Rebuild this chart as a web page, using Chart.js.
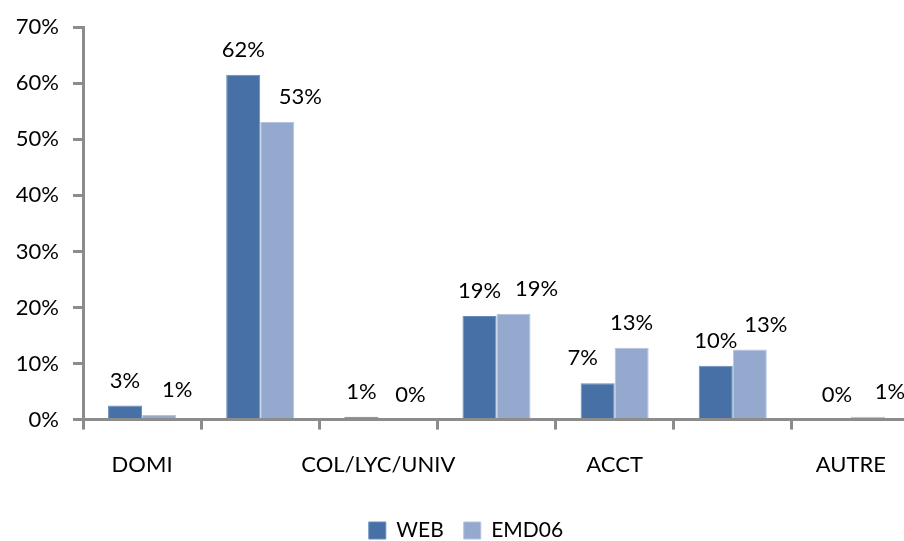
<!DOCTYPE html>
<html>
<head>
<meta charset="utf-8">
<script src="https://cdn.jsdelivr.net/npm/chart.js@4"></script>
<style>
    html, body { margin: 0; padding: 0; background: #fff; overflow: hidden; }
    #wrap { width: 910px; height: 553px; }
</style>
</head>
<body>
<div id="wrap"><canvas id="graphique"></canvas></div>
<script>
// Catégories (Excel n'affiche qu'un libellé sur deux)
const categories = ['DOMI', '', 'COL/LYC/UNIV', '', 'ACCT', '', 'AUTRE'];
const valeursWeb = [2.5, 61.5, 0.5, 18.5, 6.5, 9.6, 0];
const valeursEmd = [0.8, 53.1, 0, 18.9, 12.8, 12.5, 0.5];
const ticksY = [0, 10, 20, 30, 40, 50, 60, 70];

// décalage horizontal des étiquettes (placées à la main dans l'original)
const decalageWeb = [0, 0, 0, 0, -15, 0, 3];
const decalageEmd = [18, 23, 15, 23, 0, 16, 22];

const police = 'Lato, "Open Sans", sans-serif';
const gris = '#8c8c8c';

// Étiquettes de valeurs au-dessus des barres + recentrage de la légende
const etiquettesPlugin = {
    id: 'etiquettes',
    beforeDraw(chart) {
        // l'original est plus large que la fenêtre : la légende est centrée sur 932px
        if (chart.legend) chart.legend.left = 22;
    },
    afterDatasetsDraw(chart) {
        const ctx = chart.ctx;
        ctx.save();
        ctx.font = '22px ' + police;
        ctx.fillStyle = '#000';
        ctx.textAlign = 'center';
        ctx.textBaseline = 'middle';
        chart.data.datasets.forEach((ds, i) => {
            const meta = chart.getDatasetMeta(i);
            const decalages = i === 0 ? decalageWeb : decalageEmd;
            meta.data.forEach((barre, j) => {
                const texte = Math.round(ds.data[j]) + '%';
                ctx.fillText(texte, barre.x + decalages[j], barre.y - 25);
            });
        });
        ctx.restore();
    }
};

new Chart(document.getElementById('graphique').getContext('2d'), {
    type: 'bar',
    data: {
        labels: categories,
        datasets: [
            { label: 'WEB', data: valeursWeb, backgroundColor: '#4771a6', borderColor: '#6a8cba', borderWidth: 1 },
            { label: 'EMD06', data: valeursEmd, backgroundColor: '#95a9cf', borderColor: '#b4c3de', borderWidth: 1 }
        ]
    },
    options: {
        responsive: true,
        maintainAspectRatio: false,
        animation: false,
        layout: { padding: { top: 21, right: 0, left: 0, bottom: 2 } },
        datasets: { bar: { categoryPercentage: 0.576, barPercentage: 1 } },
        scales: {
            x: {
                grid: { offset: true, drawOnChartArea: false, drawTicks: true, tickLength: 10, color: gris, lineWidth: 3 },
                border: { color: gris, width: 3 },
                ticks: { autoSkip: false, maxRotation: 0, padding: 22, color: '#000', font: { family: police, size: 22 } }
            },
            y: {
                min: 0,
                max: 70,
                afterBuildTicks: (axe) => { axe.ticks = ticksY.map(v => ({ value: v })); },
                afterFit: (axe) => { axe.width = 83; },
                grid: { drawOnChartArea: false, drawTicks: true, tickLength: 10, color: gris, lineWidth: 3 },
                border: { color: gris, width: 3 },
                ticks: { padding: 14, color: '#000', font: { family: police, size: 22 }, callback: v => v + '%' }
            }
        },
        plugins: {
            legend: {
                position: 'bottom',
                labels: { boxWidth: 17, boxHeight: 17, padding: 20, color: '#000', font: { family: police, size: 21 } }
            },
            tooltip: { enabled: false }
        }
    },
    plugins: [etiquettesPlugin]
});
</script>
</body>
</html>
